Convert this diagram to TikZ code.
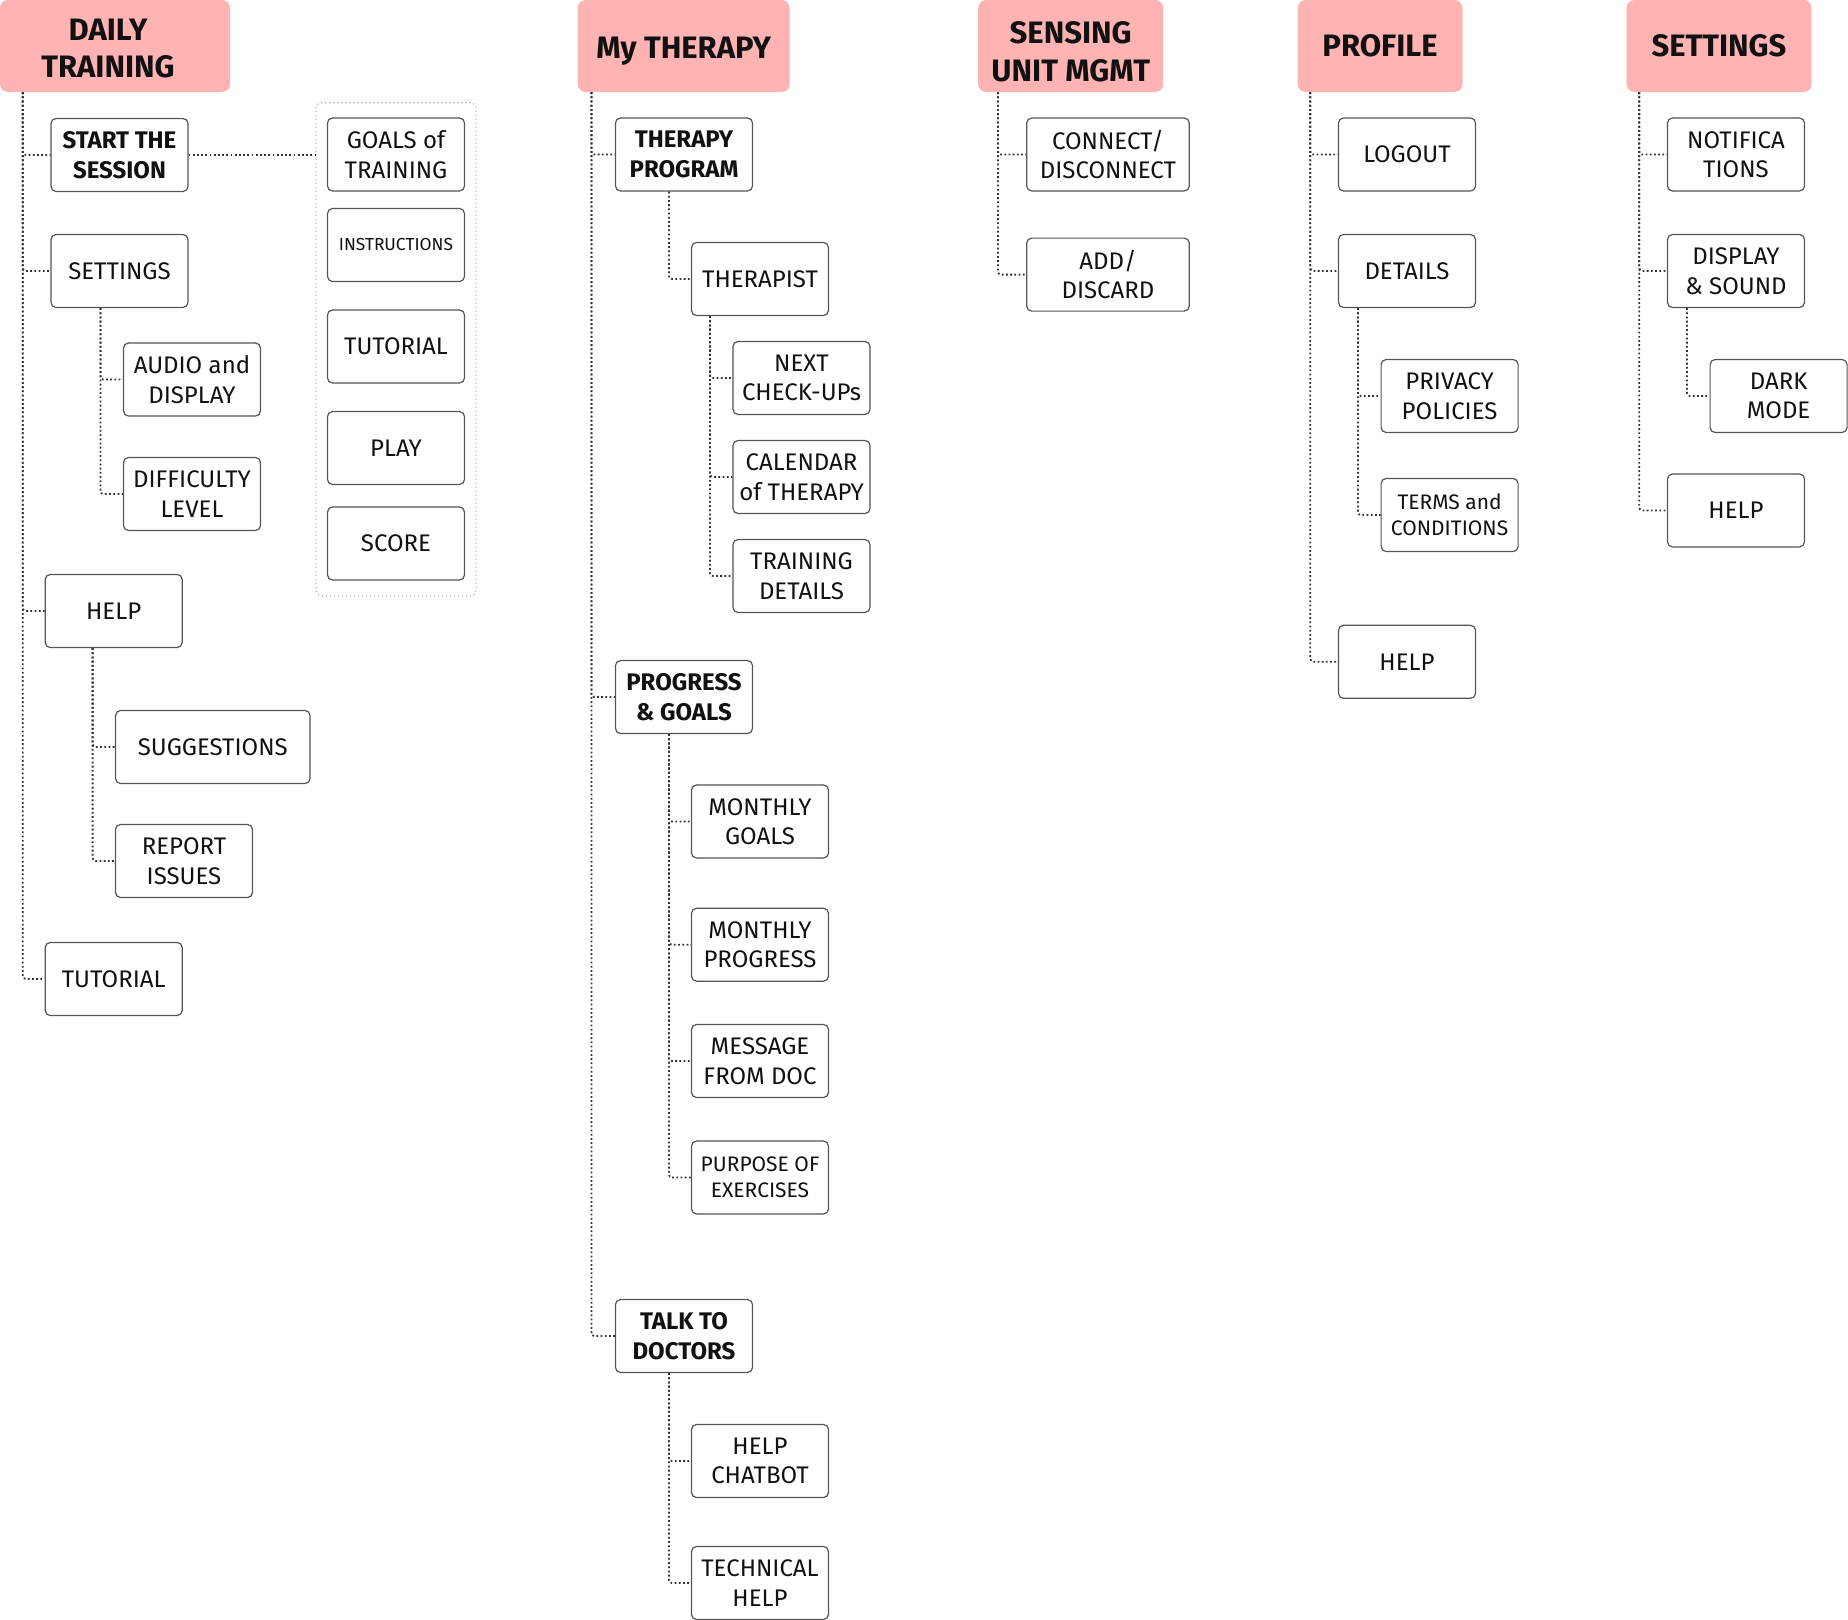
\documentclass[tikz,border=0pt]{standalone}
\usepackage{fontspec}
\setmainfont{Fira Sans}
\definecolor{hdrpink}{HTML}{FFB3B3}
\definecolor{boxgray}{HTML}{555555}
\definecolor{conngray}{HTML}{333333}
\definecolor{txt}{HTML}{111111}
\newcommand\bxfont{\fontsize{24}{29.5}\selectfont}
\newcommand\bbxfont{\bfseries\fontsize{24}{29.5}\selectfont}
\newcommand\smfont{\fontsize{21}{26}\selectfont}
\newcommand\tnfont{\fontsize{17.4}{20}\selectfont}
\newcommand\hdfont{\bfseries\fontsize{31}{37.5}\selectfont}
\newcommand\hup[1]{\rule{0pt}{#1}}
\tikzset{
  hdr/.style={fill=hdrpink, rounded corners=8pt, font=\hdfont, text=txt, align=center, inner sep=0pt, minimum height=92pt},
  box/.style={draw=boxgray, line width=1.2pt, rounded corners=5pt, minimum width=137pt, minimum height=73pt, align=center, inner sep=0pt, font=\bxfont, text=txt, fill=white},
  bbox/.style={box, font=\bbxfont},
  sbox/.style={box, font=\smfont},
  tbox/.style={box, font=\tnfont},
  grpbox/.style={draw=gray!80, line width=1pt, dash pattern=on 1pt off 3pt, rounded corners=6pt, inner sep=0pt},
  conn/.style={draw=conngray, line width=1.8pt, dash pattern=on 1.8pt off 2.4pt, rounded corners=3pt}
}
\begin{document}
\begin{tikzpicture}[x=1pt,y=-1pt]
\useasboundingbox (0,0) rectangle (1848,1620);
% headers
\node[hdr, minimum width=230pt] (dt) at (115,46) {\hup{27pt}DAILY\hspace*{14pt}\\TRAINING\hspace*{14pt}};
\node[hdr, minimum width=212pt] (mt) at (683.6,46) {\hup{31pt}My THERAPY};
\node[hdr, minimum width=185pt] (su) at (1070.7,46) {\hup{34pt}SENSING\\UNIT MGMT};
\node[hdr, minimum width=165pt] (pr) at (1380,46) {PROFILE};
\node[hdr, minimum width=185pt] (se) at (1719,46) {SETTINGS};
% column 1
\node[bbox] (st) at (119.5,155) {START THE\\SESSION};
\node[box] (set) at (119.5,271) {SETTINGS};
\node[box] (aud) at (192,379.5) {AUDIO and\\DISPLAY};
\node[box] (dif) at (192,494) {DIFFICULTY\\LEVEL};
\node[box] (hlpa) at (113.7,611) {HELP};
\node[box, minimum width=194.5pt] (sug) at (212.8,747) {SUGGESTIONS};
\node[box] (rep) at (184,861) {REPORT\\ISSUES};
\node[box] (tuta) at (113.7,979) {TUTORIAL};
\node[grpbox, minimum width=160pt, minimum height=493.5pt] (grp) at (396,349.25) {};
\node[box] (gol) at (396,154.5) {GOALS of\\TRAINING};
\node[tbox] (ins) at (396,245) {INSTRUCTIONS};
\node[box] (tutb) at (396,346.5) {TUTORIAL};
\node[box] (ply) at (396,448) {PLAY};
\node[box] (scr) at (396,543.5) {SCORE};
% column 2
\node[bbox] (tp) at (684,154.5) {THERAPY\\PROGRAM};
\node[box] (thp) at (760,279) {THERAPIST};
\node[box] (nxt) at (801.5,378) {NEXT\\CHECK-UPs};
\node[box] (cal) at (801.5,477) {CALENDAR\\of THERAPY};
\node[box] (trd) at (801.5,576) {TRAINING\\DETAILS};
\node[bbox] (pg) at (684,697) {PROGRESS\\\& GOALS};
\node[box] (mg) at (760,821.5) {MONTHLY\\GOALS};
\node[box] (mp) at (760,944.7) {MONTHLY\\PROGRESS};
\node[box] (msg) at (760,1061) {MESSAGE\\FROM DOC};
\node[sbox] (pur) at (760,1177.5) {PURPOSE OF\\EXERCISES};
\node[bbox] (td) at (684,1336) {TALK TO\\DOCTORS};
\node[box] (hc) at (760,1461) {HELP\\CHATBOT};
\node[box] (th) at (760,1583) {TECHNICAL\\HELP};
% column 3
\node[box, minimum width=162.6pt] (con) at (1108,154.5) {CONNECT/\\DISCONNECT};
\node[box, minimum width=162.6pt] (add) at (1108,274.6) {ADD/\\DISCARD};
% column 4
\node[box] (lo) at (1407,154.5) {LOGOUT};
\node[box] (det) at (1407,271) {DETAILS};
\node[box] (pri) at (1449.6,396) {PRIVACY\\POLICIES};
\node[sbox] (trm) at (1449.6,515) {TERMS and\\CONDITIONS};
\node[box] (hlpd) at (1407,661.8) {HELP};
% column 5
\node[box] (ntf) at (1736,154.5) {NOTIFICA\\TIONS};
\node[box] (dsp) at (1736,271) {DISPLAY\\\& SOUND};
\node[box] (drk) at (1778.6,396) {DARK\\MODE};
\node[box] (hlpe) at (1736,510.4) {HELP};
% connectors
\foreach \c in {st,set,hlpa,tuta} \draw[conn] ([xshift=23pt]dt.south west) |- (\c.west);
\draw[conn] (st.east) -- (st.east -| grp.west);
\foreach \c in {aud,dif} \draw[conn] ([xshift=50pt]set.south west) |- (\c.west);
\foreach \c in {sug,rep} \draw[conn] ([xshift=48pt]hlpa.south west) |- (\c.west);
\foreach \c in {tp,pg,td} \draw[conn] ([xshift=14pt]mt.south west) |- (\c.west);
\draw[conn] ([xshift=54pt]tp.south west) |- (thp.west);
\foreach \c in {nxt,cal,trd} \draw[conn] ([xshift=19pt]thp.south west) |- (\c.west);
\foreach \c in {mg,mp,msg,pur} \draw[conn] ([xshift=54pt]pg.south west) |- (\c.west);
\foreach \c in {hc,th} \draw[conn] ([xshift=54pt]td.south west) |- (\c.west);
\foreach \c in {con,add} \draw[conn] ([xshift=20pt]su.south west) |- (\c.west);
\foreach \c in {lo,det,hlpd} \draw[conn] ([xshift=13pt]pr.south west) |- (\c.west);
\foreach \c in {pri,trm} \draw[conn] ([xshift=20pt]det.south west) |- (\c.west);
\foreach \c in {ntf,dsp,hlpe} \draw[conn] ([xshift=13pt]se.south west) |- (\c.west);
\draw[conn] ([xshift=20pt]dsp.south west) |- (drk.west);
\end{tikzpicture}
\end{document}
